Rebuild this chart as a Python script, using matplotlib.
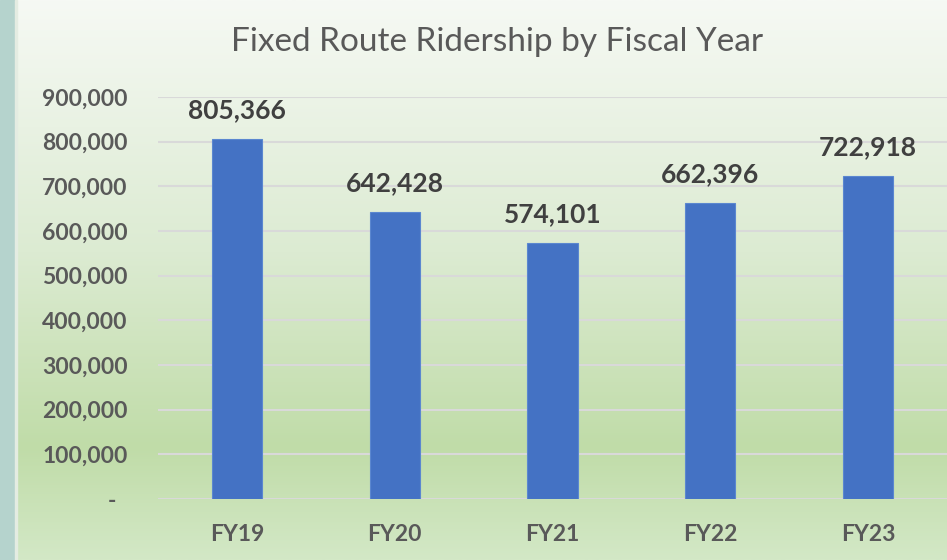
import numpy as np
import matplotlib.pyplot as plt
from matplotlib.colors import LinearSegmentedColormap
from matplotlib.patches import Rectangle

years = ["FY19", "FY20", "FY21", "FY22", "FY23"]
riders = [805366, 642428, 574101, 662396, 722918]
yticks = [0, 100000, 200000, 300000, 400000, 500000, 600000, 700000, 800000, 900000]

plt.rcParams['font.family'] = ['Lato', 'DejaVu Sans']

fig = plt.figure(figsize=(9.47, 5.6), dpi=100)

# background gradient (white at top to light green near bottom)
bg = fig.add_axes([0, 0, 1, 1], zorder=-10)
cmap = LinearSegmentedColormap.from_list(
    "bg", [(0, "#f6f9f4"), (0.45, "#dcebd2"), (0.8, "#c0dca8"), (1, "#d3e8c6")])
grad = np.linspace(0, 1, 256).reshape(-1, 1)
bg.imshow(grad, cmap=cmap, aspect="auto", extent=[0, 1, 0, 1], origin="upper")
bg.add_patch(Rectangle((0, 0), 15 / 947, 1, color="#b5d3cd"))
bg.add_patch(Rectangle((15 / 947, 0), 2 / 947, 1, color="#e4ece2"))
bg.set_xlim(0, 1)
bg.set_ylim(0, 1)
bg.axis("off")

ax = fig.add_axes([158 / 947, 1 - 499 / 560, 1 - 158 / 947, (499 - 97) / 560])
ax.patch.set_alpha(0)
x = np.arange(len(years))
ax.bar(x, riders, width=0.317, color="#4472c4", edgecolor="#5b87d0", linewidth=0.8, zorder=3)

for xi, v in zip(x, riders):
    ax.annotate(f"{v:,}", (xi, v), xytext=(0, 12), textcoords="offset points",
                ha="center", va="bottom", fontsize=19, fontweight="bold", color="#404040")

ax.set_xlim(-0.5, len(years) - 0.5)
ax.set_ylim(0, 900000)
ax.set_yticks(yticks)
ax.set_yticklabels(["-  " if t == 0 else f"{t:,}" for t in yticks])
ax.set_xticks(x)
ax.set_xticklabels(years)
ax.tick_params(axis="both", length=0, labelsize=16.5, labelcolor="#595959")
ax.tick_params(axis="y", pad=22)
ax.tick_params(axis="x", pad=18)
for lbl in ax.get_xticklabels() + ax.get_yticklabels():
    lbl.set_fontweight("bold")
ax.grid(axis="y", color="#d9d9d9", linewidth=1.5, zorder=0)
for s in ax.spines.values():
    s.set_visible(False)

fig.text(497 / 947, 1 - 42 / 560, "Fixed Route Ridership by Fiscal Year",
         ha="center", va="center", fontsize=24, color="#595959")

fig.savefig("out.png", dpi=100)
